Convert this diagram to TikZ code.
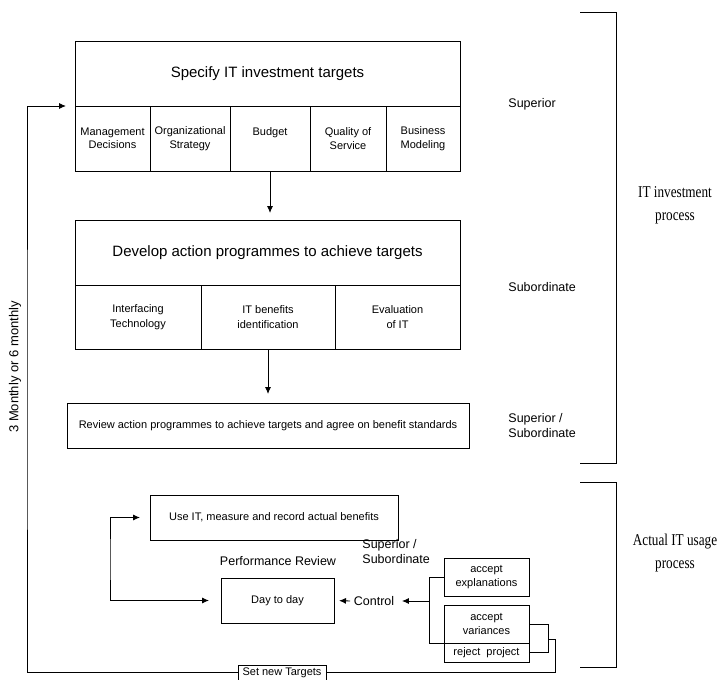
\documentclass[tikz,border=0pt]{standalone}
\usepackage{fontspec}
\setmainfont{Liberation Sans}
\newfontfamily\serifcond[FakeStretch=0.8]{Liberation Serif}
\usetikzlibrary{arrows.meta, positioning}

\begin{document}
\begin{tikzpicture}[
  x=1pt, y=-1pt,
  line width=0.9pt,
  box/.style={
    rectangle,
    draw,
    inner sep=0pt,
    outer sep=0pt,
    align=center,
    font=\fontsize{11}{13.5}\selectfont
  },
  head/.style={box, minimum width=385pt, minimum height=65pt, font=\fontsize{15}{18}\selectfont},
  cell/.style={box, minimum height=65pt},
  role/.style={align=left, anchor=west, inner sep=0pt, font=\fontsize{12.5}{15}\selectfont},
  phase/.style={align=center, font=\serifcond\fontsize{16.5}{23}\selectfont},
  arrow/.style={-{Latex[length=7pt, width=6pt]}}
]
\useasboundingbox (0,0) rectangle (719,679);

% Objetivos de inversion (arriba)
\node[head] (spec) at (267.5,73.5) {Specify IT investment targets};
\node[cell, minimum width=75pt, below right=0pt of spec.south west] (mgmt) {Management\\Decisions};
\node[cell, minimum width=80pt, right=0pt of mgmt] (strat) {Organizational\\Strategy};
\node[cell, minimum width=80pt, right=0pt of strat] (budget) {Budget\\\mbox{}};
\node[cell, minimum width=76pt, right=0pt of budget] (qos) {Quality of\\Service};
\node[cell, minimum width=74pt, right=0pt of qos] (bmod) {Business\\Modeling};

% Programas de accion (medio)
\node[head] (dev) at (267.5,252.5) {Develop action programmes to achieve targets};
\node[cell, minimum width=126pt, minimum height=64pt, font=\fontsize{11}{15}\selectfont,
  below right=0pt of dev.south west] (iface) {Interfacing\\Technology};
\node[cell, minimum width=134pt, minimum height=64pt, font=\fontsize{11}{15}\selectfont,
  right=0pt of iface] (bene) {IT benefits\\identification};
\node[cell, minimum width=125pt, minimum height=64pt, font=\fontsize{11}{15}\selectfont,
  right=0pt of bene] (eval) {Evaluation\\of IT};

% Revision
\node[box, minimum width=402pt, minimum height=45pt] (review) at (268,425.5)
  {Review action programmes to achieve targets and agree on benefit standards};

% Uso real
\node[box, minimum width=248pt, minimum height=45pt] (useit) at (274,517.5)
  {Use IT, measure and record actual benefits};
\node[font=\fontsize{12.5}{15}\selectfont] (perf) at (278,561) {Performance Review};
\node[box, minimum width=113pt, minimum height=45pt] (day) at (277.5,600.5) {Day to day};
\node[font=\fontsize{12.5}{15}\selectfont] (ctrl) at (374,601) {Control};
\node[role] (supsub2) at (362,552) {Superior /\\Subordinate};
\node[box, minimum width=85pt, minimum height=38pt] (expl) at (486.5,577) {accept\\explanations};
\node[box, minimum width=85pt, minimum height=38pt] (var) at (486.5,624) {accept\\variances};
\node[box, minimum width=85pt, minimum height=19pt, below=0pt of var] (rej) {reject\ \ project};
\node[box, minimum width=88pt, minimum height=15pt, fill=white] (newt) at (282,672.5) {Set new Targets};

% Roles
\node[role] (sup) at (508,104) {Superior};
\node[role] (sub) at (508,287) {Subordinate};
\node[role] (supsub) at (508,425.5) {Superior /\\Subordinate};

% Corchetes de fase
\draw (580,12) -- (616,12) -- (616,463) -- (580,463);
\draw (580,482) -- (616,482) -- (616,667) -- (580,667);
\node[phase] (itinv) at (675,205) {IT investment\\process};
\node[phase] (ituse) at (675,553) {Actual IT usage\\process};

% Periodo
\node[rotate=90, font=\fontsize{13}{15}\selectfont] (period) at (15,367) {3 Monthly or 6 monthly};

% Relaciones
\draw[arrow, shorten >=7pt] (budget.south) -- (budget.south |- dev.north);
\draw[arrow, shorten >=9pt] (bene.south) -- (bene.south |- review.north);
\draw[{Latex[length=7pt, width=6pt]}-{Latex[length=7pt, width=6pt]}, shorten <=10pt, shorten >=12pt]
  (useit.west) -| (110,560) |- (day.west);
\draw[arrow, shorten >=5pt] (ctrl.west) -- (day.east);

\coordinate (fork) at (429,601);
\coordinate (join) at (548,639);
\draw (expl.west) -| (429,643) -- (var.south west);
\draw[arrow, shorten >=4pt] (fork) -- (ctrl.east);
\draw (var.east) -- ++(19,0) |- (rej.east);
\draw (join) -- ++(7,0) |- (newt.east);
\draw[arrow, shorten >=9pt] (newt.west) -| (27,390) |- (spec.south west);

\end{tikzpicture}
\end{document}
